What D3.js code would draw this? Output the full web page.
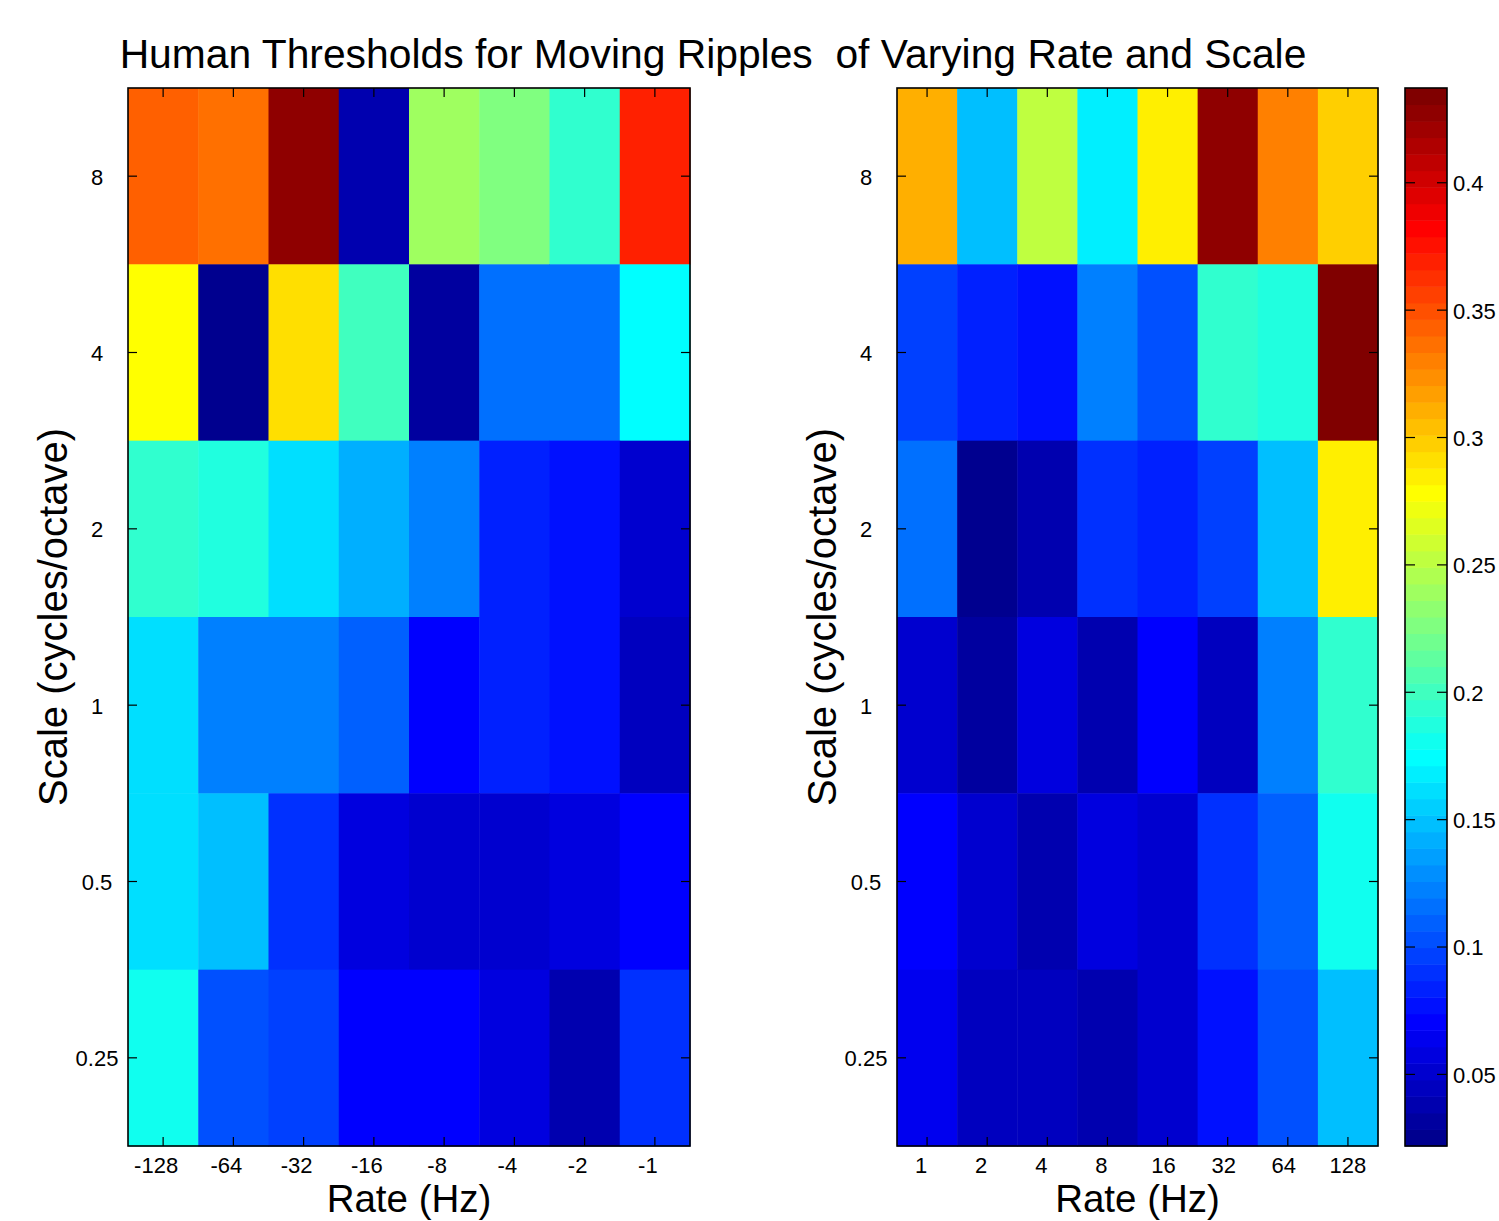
<!DOCTYPE html>
<html><head><meta charset="utf-8">
<script src="https://cdn.jsdelivr.net/npm/d3@7"></script>
<style>
body{margin:0;background:#fff}
text{font-family:"Liberation Sans",Arial,Helvetica,sans-serif;fill:#000}
</style>
</head><body>
<svg id="chart" width="1499" height="1221"></svg>
<script>
// ---- data ----
const scaleLabels = ["8","4","2","1","0.5","0.25"];
const ratesNeg = ["-128","-64","-32","-16","-8","-4","-2","-1"];
const ratesPos = ["1","2","4","8","16","32","64","128"];
const leftValues = [
  [0.3430, 0.3365, 0.4273, 0.0379, 0.2391, 0.2261, 0.1937, 0.3689],
  [0.2781, 0.0249, 0.2910, 0.2002, 0.0314, 0.1158, 0.1158, 0.1742],
  [0.1937, 0.1872, 0.1612, 0.1418, 0.1223, 0.0834, 0.0769, 0.0509],
  [0.1612, 0.1223, 0.1223, 0.1093, 0.0704, 0.0834, 0.0769, 0.0444],
  [0.1612, 0.1483, 0.0899, 0.0574, 0.0509, 0.0509, 0.0574, 0.0704],
  [0.1807, 0.1028, 0.0964, 0.0704, 0.0704, 0.0574, 0.0379, 0.0899]
];
const rightValues = [
  [0.3105, 0.1483, 0.2521, 0.1677, 0.2846, 0.4273, 0.3300, 0.2975],
  [0.0964, 0.0834, 0.0769, 0.1223, 0.1028, 0.1937, 0.1872, 0.4338],
  [0.1158, 0.0249, 0.0379, 0.0899, 0.0834, 0.0964, 0.1483, 0.2846],
  [0.0509, 0.0314, 0.0574, 0.0379, 0.0704, 0.0444, 0.1223, 0.1937],
  [0.0704, 0.0509, 0.0379, 0.0574, 0.0509, 0.0899, 0.1093, 0.1807],
  [0.0639, 0.0444, 0.0444, 0.0379, 0.0509, 0.0769, 0.1028, 0.1483]
];
const colorTicks = [0.05, 0.1, 0.15, 0.2, 0.25, 0.3, 0.35, 0.4];
const colorDomain = [0.0217, 0.437];
const titleText = "Human Thresholds for Moving Ripples  of Varying Rate and Scale";
const xLabel = "Rate (Hz)";
const yLabel = "Scale (cycles/octave)";

// ---- jet(64) colormap ----
function jet(n){
  const m = Math.ceil(n/4);
  const u = [];
  for(let i=1;i<=m;i++) u.push(i/m);
  for(let i=1;i<m;i++) u.push(1);
  for(let i=m;i>=1;i--) u.push(i/m);
  const gOff = Math.ceil(m/2) - (n%4===1?1:0);
  const cols = [];
  for(let i=1;i<=n;i++){
    const gi = i - gOff, ri = gi - m, bi = gi + m;
    const f = k => (k>=1 && k<=u.length) ? u[k-1] : 0;
    cols.push(d3.rgb(Math.round(f(ri)*255), Math.round(f(gi)*255), Math.round(f(bi)*255)).formatHex());
  }
  return cols;
}
const jetColors = jet(64);
const color = d3.scaleQuantize().domain(colorDomain).range(jetColors);

const svg = d3.select("#chart");
const plotTop = 88, plotBottom = 1146;
const tickLen = 9;

function heatmap(x0, x1, cols, values, labelShift){
  const g = svg.append("g");
  const x = d3.scaleBand().domain(cols).range([x0, x1]);
  const y = d3.scaleBand().domain(scaleLabels).range([plotTop, plotBottom]);
  values.forEach((row, ri) => {
    g.selectAll(null).data(row).enter().append("rect")
      .attr("x", (d,ci) => x(cols[ci]))
      .attr("y", y(scaleLabels[ri]))
      .attr("width", x.bandwidth()+0.5)
      .attr("height", y.bandwidth()+0.5)
      .attr("fill", d => color(d));
  });
  const ax = g.append("g").attr("transform", `translate(0,${plotBottom})`)
    .call(d3.axisBottom(x).tickSizeInner(-tickLen).tickSizeOuter(0).tickPadding(11));
  ax.selectAll("text").attr("font-size", 22).attr("dx", d => labelShift(d));
  g.append("g").attr("transform", `translate(0,${plotTop})`)
    .call(d3.axisTop(x).tickSizeInner(-tickLen).tickSizeOuter(0).tickFormat(""));
  const ay = g.append("g").attr("transform", `translate(${x0},0)`)
    .call(d3.axisLeft(y).tickSizeInner(-tickLen).tickSizeOuter(0));
  ay.selectAll("text").attr("font-size", 22).attr("x", -31).attr("dy","0.38em").attr("text-anchor","middle");
  g.append("g").attr("transform", `translate(${x1},0)`)
    .call(d3.axisRight(y).tickSizeInner(-tickLen).tickSizeOuter(0).tickFormat(""));
  g.selectAll(".domain").remove();
  g.selectAll(".tick line").attr("stroke","#000").attr("stroke-width",1.2);
  g.selectAll(".tick text").attr("fill","#000").style("font-family",'"Liberation Sans",Arial,sans-serif');
  g.append("rect").attr("x",x0).attr("y",plotTop).attr("width",x1-x0).attr("height",plotBottom-plotTop)
    .attr("fill","none").attr("stroke","#000").attr("stroke-width",1.6);
  g.append("text").attr("x",(x0+x1)/2).attr("y",1212).attr("text-anchor","middle")
    .attr("font-size",38.5).text(xLabel);
  g.append("text").attr("transform",`translate(${x0-61},${(plotTop+plotBottom)/2}) rotate(-90)`)
    .attr("text-anchor","middle").attr("font-size",40).text(yLabel);
}

heatmap(128, 690, ratesNeg, leftValues, d => -7);
heatmap(897, 1378, ratesPos, rightValues, d => d.length === 1 ? -6 : (d.length === 2 ? -4 : 0));

// colorbar
const cb0 = 1405, cb1 = 1447;
const yc = d3.scaleLinear().domain(colorDomain).range([plotBottom, plotTop]);
const cbg = svg.append("g");
const step = (colorDomain[1]-colorDomain[0])/jetColors.length;
cbg.selectAll("rect").data(jetColors).enter().append("rect")
  .attr("x", cb0).attr("width", cb1-cb0)
  .attr("y", (c,i) => yc(colorDomain[0]+(i+1)*step))
  .attr("height", (c,i) => yc(colorDomain[0]+i*step) - yc(colorDomain[0]+(i+1)*step) + 0.5)
  .attr("fill", c => c);
const cax = cbg.append("g").attr("transform",`translate(${cb1},0)`)
  .call(d3.axisRight(yc).tickValues(colorTicks).tickSizeInner(-10).tickSizeOuter(0).tickPadding(6).tickFormat(d3.format("")));
cax.selectAll("text").attr("font-size",22).attr("fill","#000").attr("x",6).attr("dy","0.38em");
cbg.append("g").attr("transform",`translate(${cb0},0)`)
  .call(d3.axisLeft(yc).tickValues(colorTicks).tickSizeInner(-10).tickSizeOuter(0).tickFormat(""));
cbg.selectAll(".domain").remove();
cbg.selectAll(".tick line").attr("stroke","#000").attr("stroke-width",1.2);
cbg.selectAll(".tick text").style("font-family",'"Liberation Sans",Arial,sans-serif');
cbg.append("rect").attr("x",cb0).attr("y",plotTop).attr("width",cb1-cb0).attr("height",plotBottom-plotTop)
  .attr("fill","none").attr("stroke","#000").attr("stroke-width",1.6);

// title
svg.append("text").attr("x",713).attr("y",68).attr("text-anchor","middle")
  .attr("font-size",40.8).style("white-space","pre").text(titleText);
</script>
</body></html>
